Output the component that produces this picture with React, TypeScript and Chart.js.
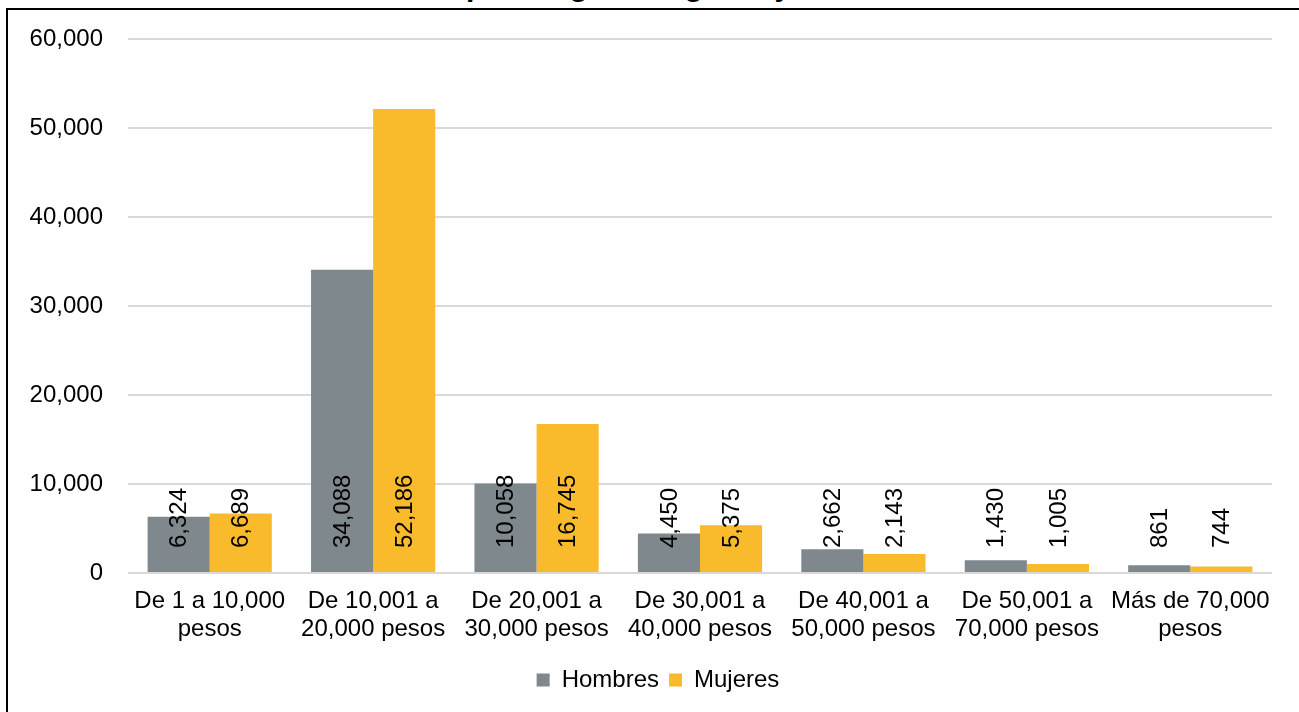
import React, { useEffect, useRef } from "react";
import { Chart, registerables } from "chart.js";

Chart.register(...registerables);

const categories: string[][] = [
  ["De 1 a 10,000", "pesos"],
  ["De 10,001 a", "20,000 pesos"],
  ["De 20,001 a", "30,000 pesos"],
  ["De 30,001 a", "40,000 pesos"],
  ["De 40,001 a", "50,000 pesos"],
  ["De 50,001 a", "70,000 pesos"],
  ["Más de 70,000", "pesos"],
];
const seriesNames = ["Hombres", "Mujeres"];
const hombres = [6324, 34088, 10058, 4450, 2662, 1430, 861];
const mujeres = [6689, 52186, 16745, 5375, 2143, 1005, 744];
const yMin = 0;
const yMax = 60000;
const yStep = 10000;
const titleLine = "por rango de ingreso y sexo";

const FONT = '"Liberation Sans", Arial, Helvetica, sans-serif';
const GRAY = "#7F888D";
const YELLOW = "#F9BB2B";

const fmt = (v: number) => v.toLocaleString("en-US");

const valueLabels = {
  id: "valueLabels",
  afterLayout(chart: any) {
    if (chart.legend) {
      chart.legend.left += 7;
      chart.legend.right += 7;
    }
  },
  afterDatasetsDraw(chart: any) {
    const ctx = chart.ctx as CanvasRenderingContext2D;
    chart.data.datasets.forEach((ds: any, i: number) => {
      const meta = chart.getDatasetMeta(i);
      meta.data.forEach((el: any, j: number) => {
        const { x, base } = el.getProps(["x", "base"], true);
        ctx.save();
        ctx.translate(x, base - 24);
        ctx.rotate(-Math.PI / 2);
        ctx.font = `24px ${FONT}`;
        ctx.fillStyle = "#000";
        ctx.textAlign = "left";
        ctx.textBaseline = "middle";
        ctx.fillText(fmt(ds.data[j] as number), 0, 1);
        ctx.restore();
      });
    });
  },
};

export default function App() {
  const ref = useRef<HTMLCanvasElement | null>(null);

  useEffect(() => {
    if (!ref.current) return;
    const chart = new Chart(ref.current, {
      type: "bar",
      data: {
        labels: categories,
        datasets: [
          {
            label: seriesNames[0],
            data: hombres,
            backgroundColor: GRAY,
            borderWidth: 0,
            categoryPercentage: 0.76,
            barPercentage: 1.0,
          },
          {
            label: seriesNames[1],
            data: mujeres,
            backgroundColor: YELLOW,
            borderWidth: 0,
            categoryPercentage: 0.76,
            barPercentage: 1.0,
          },
        ],
      },
      options: {
        responsive: false,
        animation: false,
        maintainAspectRatio: false,
        layout: { padding: { left: 30, right: 27, top: 38, bottom: 10 } },
        font: { family: FONT },
        scales: {
          x: {
            grid: { display: false, drawTicks: false },
            border: { display: false },
            ticks: {
              color: "#000",
              padding: 14,
              maxRotation: 0,
              autoSkip: false,
              font: { family: FONT, size: 24, lineHeight: 28 / 24 },
            },
            afterFit(scale: any) {
              scale.height += 1;
            },
          },
          y: {
            min: yMin,
            max: yMax,
            grid: { color: "#D9D9D9", lineWidth: 2, drawTicks: false },
            border: { display: false },
            ticks: {
              stepSize: yStep,
              color: "#000",
              padding: 25,
              font: { family: FONT, size: 24 },
              callback: (v: any) => fmt(Number(v)),
            },
            afterFit(scale: any) {
              scale.width = 98;
            },
          },
        },
        plugins: {
          legend: {
            position: "bottom",
            labels: {
              color: "#000",
              boxWidth: 13,
              boxHeight: 13,
              padding: 10,
              font: { family: FONT, size: 24 },
            },
          },
          title: { display: false },
          tooltip: { enabled: false },
        },
      } as any,
      plugins: [valueLabels],
    });
    return () => chart.destroy();
  }, []);

  return (
    <div
      style={{
        position: "fixed",
        left: 0,
        top: 0,
        width: 1299,
        height: 712,
        overflow: "hidden",
        background: "#fff",
      }}
    >
      <div
        style={{
          position: "absolute",
          left: 0,
          top: -29,
          width: 1334,
          textAlign: "center",
          fontFamily: FONT,
          fontWeight: "bold",
          fontSize: 30,
          lineHeight: "30px",
          color: "#000",
          whiteSpace: "nowrap",
        }}
      >
        {titleLine}
      </div>
      <div
        style={{
          position: "absolute",
          left: 6,
          top: 8,
          width: 1400,
          height: 800,
          border: "2px solid #000",
          boxSizing: "border-box",
        }}
      />
      <canvas
        ref={ref}
        width={1299}
        height={712}
        style={{ position: "absolute", left: 0, top: 0, width: 1299, height: 712 }}
      />
    </div>
  );
}
